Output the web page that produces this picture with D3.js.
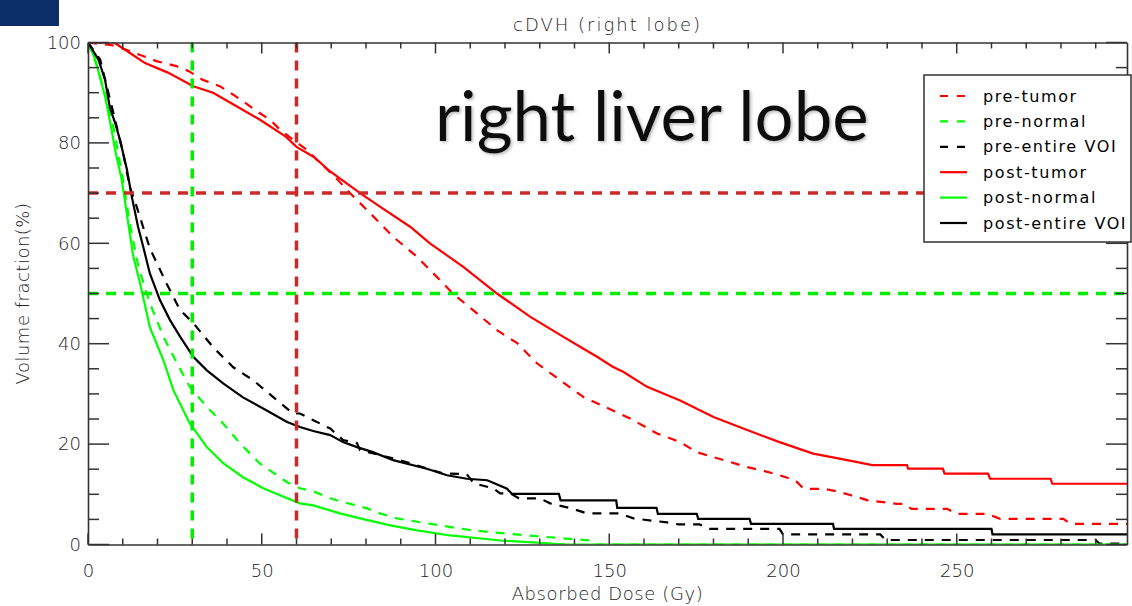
<!DOCTYPE html>
<html>
<head>
<meta charset="utf-8">
<script src="https://cdn.jsdelivr.net/npm/d3@7"></script>
<style>
    html, body { margin: 0; padding: 0; background: #fff; }
    svg { display: block; }
</style>
</head>
<body>
<div id="chart"></div>
<script>
// Cumulative DVH curves, [dose (Gy), volume fraction (%)]
const preTumor = [[0,100],[7.5,99.4],[12,98.3],[19.7,96.3],[25.4,95.3],[29,94.3],[32.9,92.6],[37.9,91.3],[41.8,89.6],[44.6,88.3],[48.6,86.3],[52.4,84.6],[55.3,82.6],[59.1,80.6],[63,78.6],[65.9,76.6],[71,73.3],[75.4,70],[81.2,66],[87.8,61.3],[94.7,57.3],[98.4,54.7],[105,50],[110.8,46.7],[117.7,42.7],[123.5,40.1],[129.2,36.1],[135.9,32.7],[142.5,29.4],[151,26.7],[156,25.1],[163.8,22.1],[170.4,20.4],[175.2,18.4],[180,17.4],[185,16.4],[189.7,15.4],[193.8,14.8],[199,13.8],[203.5,12.8],[206,11.1],[211.6,11.1],[215.5,10.6],[219.6,9.8],[224.4,8.8],[232.8,8.1],[234.7,8.1],[237,7.1],[247.2,7.1],[250,6.1],[258.8,6.1],[262.5,5.1],[280.7,5.1],[282.7,4.1],[299,4.1]];
const preNormal = [[0,100],[2.5,95.5],[5,89.5],[7.5,82.5],[10,73],[12,64],[14.5,55.4],[17.8,48.1],[21.7,41.4],[25.6,36.1],[29.3,31.4],[34.2,27.4],[38.9,24.1],[43.8,20.1],[49.5,16.1],[57.3,12.4],[61,11.2],[64.8,10.6],[70.5,9],[80.3,7.2],[84,6.2],[88.9,5.2],[101.3,3.8],[110.8,2.8],[126.4,1.8],[144.5,0.8],[146,0],[299,0]];
const preEntire = [[0,100],[3.5,96.6],[7.3,86],[10.1,78],[12,71.3],[14,67.3],[17.8,59],[22.6,52],[26.5,46.7],[30.3,44.1],[36,39.3],[41.8,35.3],[47.6,32.7],[53.4,29.3],[59,26.1],[61,26.1],[65,24.7],[69.7,23.1],[73.4,20.8],[77.4,20.2],[78.3,18.8],[89.8,16.8],[102,14.2],[109,14],[111,12.2],[116.6,11.2],[118.6,10.2],[121.5,10.2],[124,9.2],[130,9.2],[133,8.2],[139,7.2],[143.6,6.2],[153,6.2],[157,5.2],[166.6,4.4],[170,4],[176,4],[179,3.1],[199,3.1],[200,2],[228,2],[229.5,0.9],[290,0.9],[291,0.2],[299,0.2]];
const postTumor = [[0,100],[7.5,100],[11,98.4],[16.4,95.9],[23,94],[30.3,91.3],[36,90],[43,87.2],[49.5,84.6],[57,81.2],[60,79.2],[65,77.2],[69.7,74.3],[78.3,70],[84,67.3],[92.7,63.3],[98.4,60],[108,55.3],[117.7,50],[127.2,45.4],[136.7,41.4],[141.6,39.4],[146.5,37.4],[151,35.4],[154,34.4],[160.9,31.4],[170.4,28.7],[180,25.4],[189.7,22.8],[199,20.4],[208.7,18.1],[218.5,16.8],[225.7,15.8],[235.7,15.8],[236,15.1],[246,15.1],[246.5,14.1],[259,14.1],[259.6,13.1],[277,13.1],[277.5,12.1],[299,12.1]];
const postNormal = [[0,100],[2,96.8],[4.9,89.3],[6.8,82.6],[7.8,78.6],[9.7,72.7],[13,57.5],[15,52],[17.8,43.3],[21.7,36.7],[24.6,30.7],[29.3,24.1],[34.2,19.4],[38.9,16.2],[44.6,13.4],[50.4,11.2],[57.3,9.2],[61,8.2],[64.8,7.8],[72.5,6.2],[78.3,5.2],[87,3.8],[94.7,2.8],[104.2,1.8],[118.6,0.8],[137.8,0],[299,0]];
const postEntire = [[0,100],[3,96.6],[4.9,92.6],[6.3,87],[7.8,84],[9.2,80.6],[11.2,74.7],[12.6,69.3],[14.4,63.3],[16,59],[17.8,54],[20.7,48.7],[23.6,44.7],[26.5,41.4],[30.3,37.4],[34.2,34.7],[38.9,32.1],[44.6,29.3],[50.4,27.1],[57.3,24.4],[61,23.4],[64.8,22.6],[69.7,21.8],[73.4,20.4],[77.4,19.4],[82,18.4],[87.8,16.8],[97.5,15.1],[103.3,13.8],[109,13.1],[114.9,12.8],[120.6,11.1],[122,10.1],[135.5,10.1],[136,8.8],[152,8.8],[152.3,7.3],[163.6,7.3],[164,6.1],[175.2,6.1],[175.6,5.1],[190.4,5.1],[190.8,4.1],[214.4,4.1],[214.7,3.1],[260,3.1],[260.3,2],[299,2]];

// Legend labels, in drawing order
const seriesNames = ["pre-tumor", "pre-normal", "pre-entire VOI", "post-tumor", "post-normal", "post-entire VOI"];
const seriesData = [preTumor, preNormal, preEntire, postTumor, postNormal, postEntire];

// Axis ticks
const xTicks = [0, 50, 100, 150, 200, 250];
const xMinorTicks = d3.range(0, 300, 10);
const yTicks = [0, 20, 40, 60, 80, 100];
const yMinorTicks = d3.range(0, 101, 5);

// Threshold lines: dose levels (Gy) and volume levels (%)
const doseLines = [30, 60];
const volumeLines = [70, 50];

const W = 1132, H = 606;
const margin = { top: 42.5, right: 5, bottom: 61.5, left: 88 };
const width = W - margin.left - margin.right;
const height = H - margin.top - margin.bottom;

const idlFont = "DejaVu Sans, sans-serif";
const idlText = "#222";
const axisColor = "#333";

const svg = d3.select("#chart").append("svg")
    .attr("width", W)
    .attr("height", H);

// Dark blue slide corner
svg.append("rect")
    .attr("x", 0).attr("y", 0)
    .attr("width", 59).attr("height", 26)
    .attr("fill", "#0b2f66");

const g = svg.append("g")
    .attr("transform", `translate(${margin.left},${margin.top})`);

// Scales
const x = d3.scaleLinear().domain([0, 299]).range([0, width]);
const y = d3.scaleLinear().domain([0, 100]).range([height, 0]);

const color = d3.scaleOrdinal()
    .domain(seriesNames)
    .range(["#ff0000", "#00ff00", "#000000", "#ff0000", "#00ff00", "#000000"]);
const isDashed = name => name.startsWith("pre");

g.append("clipPath").attr("id", "plotClip")
    .append("rect").attr("width", width).attr("height", height);

// Curves
const line = d3.line()
    .x(d => x(d[0]))
    .y(d => y(d[1]));

const curves = g.append("g").attr("clip-path", "url(#plotClip)");
seriesNames.forEach((name, i) => {
    curves.append("path")
        .datum(seriesData[i])
        .attr("fill", "none")
        .attr("stroke", color(name))
        .attr("stroke-width", 2.2)
        .attr("stroke-dasharray", isDashed(name) ? "9,8" : null)
        .attr("d", line);
});

// Threshold lines
const refs = g.append("g").attr("clip-path", "url(#plotClip)");
refs.selectAll(".vline")
    .data(doseLines)
    .enter().append("line")
    .attr("x1", d => x(d)).attr("x2", d => x(d))
    .attr("y1", 0).attr("y2", height)
    .attr("stroke", (d, i) => i === 0 ? "#00ee00" : "#cc2a2a")
    .attr("stroke-width", 3.5)
    .attr("stroke-dasharray", "10,8");

refs.selectAll(".hline")
    .data(volumeLines)
    .enter().append("line")
    .attr("x1", 0).attr("x2", width)
    .attr("y1", d => y(d)).attr("y2", d => y(d))
    .attr("stroke", (d, i) => i === 0 ? "#cc2a2a" : "#00ee00")
    .attr("stroke-width", 3.5)
    .attr("stroke-dasharray", "10,8");

// Axes: labels and box lines from d3 axes
function styleAxis(sel) {
    sel.select(".domain").attr("stroke", axisColor).attr("stroke-width", 1.6);
    sel.selectAll(".tick line").remove();
    sel.selectAll("text")
        .attr("fill", idlText)
        .attr("font-family", idlFont)
        .attr("font-weight", 200)
        .attr("font-size", 18);
}

g.append("g")
    .attr("transform", `translate(0,${height})`)
    .call(d3.axisBottom(x).tickValues(xTicks).tickSize(0).tickPadding(20).tickFormat(d3.format("d")))
    .call(styleAxis);
g.append("g")
    .call(d3.axisTop(x).tickValues(xTicks).tickSize(0).tickFormat(""))
    .call(styleAxis);
g.append("g")
    .call(d3.axisLeft(y).tickValues(yTicks).tickSize(0).tickPadding(7).tickFormat(d3.format("d")))
    .call(styleAxis);
g.append("g")
    .attr("transform", `translate(${width},0)`)
    .call(d3.axisRight(y).tickValues(yTicks).tickSize(0).tickFormat(""))
    .call(styleAxis);

// Inward tick marks on all four sides (IDL style)
const ticks = g.append("g")
    .attr("stroke", axisColor)
    .attr("stroke-width", 1.5);

const xLen = d => xTicks.includes(d) ? 11 : 6;
const yLen = d => yTicks.includes(d) ? 21 : 11;

[height, 0].forEach(edge => {
    const dir = edge === 0 ? 1 : -1;
    ticks.selectAll(null)
        .data(xMinorTicks)
        .enter().append("line")
        .attr("x1", d => x(d)).attr("x2", d => x(d))
        .attr("y1", edge).attr("y2", d => edge + dir * xLen(d));
});

[0, width].forEach(edge => {
    const dir = edge === 0 ? 1 : -1;
    ticks.selectAll(null)
        .data(yMinorTicks)
        .enter().append("line")
        .attr("y1", d => y(d)).attr("y2", d => y(d))
        .attr("x1", edge).attr("x2", d => edge + dir * yLen(d));
});

// Title and axis labels
svg.append("text")
    .attr("x", margin.left + width / 2)
    .attr("y", 31)
    .attr("text-anchor", "middle")
    .attr("font-family", idlFont)
    .attr("font-weight", 200)
    .attr("font-size", 18)
    .attr("letter-spacing", 2)
    .attr("fill", idlText)
    .text("cDVH (right lobe)");

svg.append("text")
    .attr("x", margin.left + width / 2)
    .attr("y", 600)
    .attr("text-anchor", "middle")
    .attr("font-family", idlFont)
    .attr("font-weight", 200)
    .attr("font-size", 18)
    .attr("letter-spacing", 0.6)
    .attr("fill", idlText)
    .text("Absorbed Dose (Gy)");

svg.append("text")
    .attr("transform", `translate(29,${margin.top + height / 2}) rotate(-90)`)
    .attr("text-anchor", "middle")
    .attr("font-family", idlFont)
    .attr("font-weight", 200)
    .attr("font-size", 18)
    .attr("letter-spacing", 0.5)
    .attr("fill", idlText)
    .text("Volume fraction(%)");

// Slide annotation
const defs = svg.append("defs");
defs.append("filter").attr("id", "soft")
    .append("feDropShadow")
    .attr("dx", 1.5).attr("dy", 1.5)
    .attr("stdDeviation", 1.5)
    .attr("flood-color", "#888")
    .attr("flood-opacity", 0.6);

svg.append("text")
    .attr("x", 435)
    .attr("y", 141)
    .attr("font-family", "Lato, 'Open Sans', sans-serif")
    .attr("font-size", 69)
    .attr("fill", "#111")
    .attr("filter", "url(#soft)")
    .text("right liver lobe");

// Legend
const legend = svg.append("g")
    .attr("transform", "translate(924,75)");

legend.append("rect")
    .attr("width", 207)
    .attr("height", 167)
    .attr("fill", "#fff")
    .attr("stroke", "#333")
    .attr("stroke-width", 1.5);

seriesNames.forEach((name, i) => {
    const row = legend.append("g")
        .attr("transform", `translate(0,${21 + i * 25.4})`);

    row.append("line")
        .attr("x1", 16).attr("x2", 43)
        .attr("stroke", color(name))
        .attr("stroke-width", 2.2)
        .attr("stroke-dasharray", isDashed(name) ? "8,9" : null);

    row.append("text")
        .attr("x", 59)
        .attr("dy", "0.35em")
        .attr("font-family", idlFont)
        .attr("font-size", 16)
        .attr("letter-spacing", 1.6)
        .attr("fill", "#000")
        .text(name);
});
</script>
</body>
</html>
